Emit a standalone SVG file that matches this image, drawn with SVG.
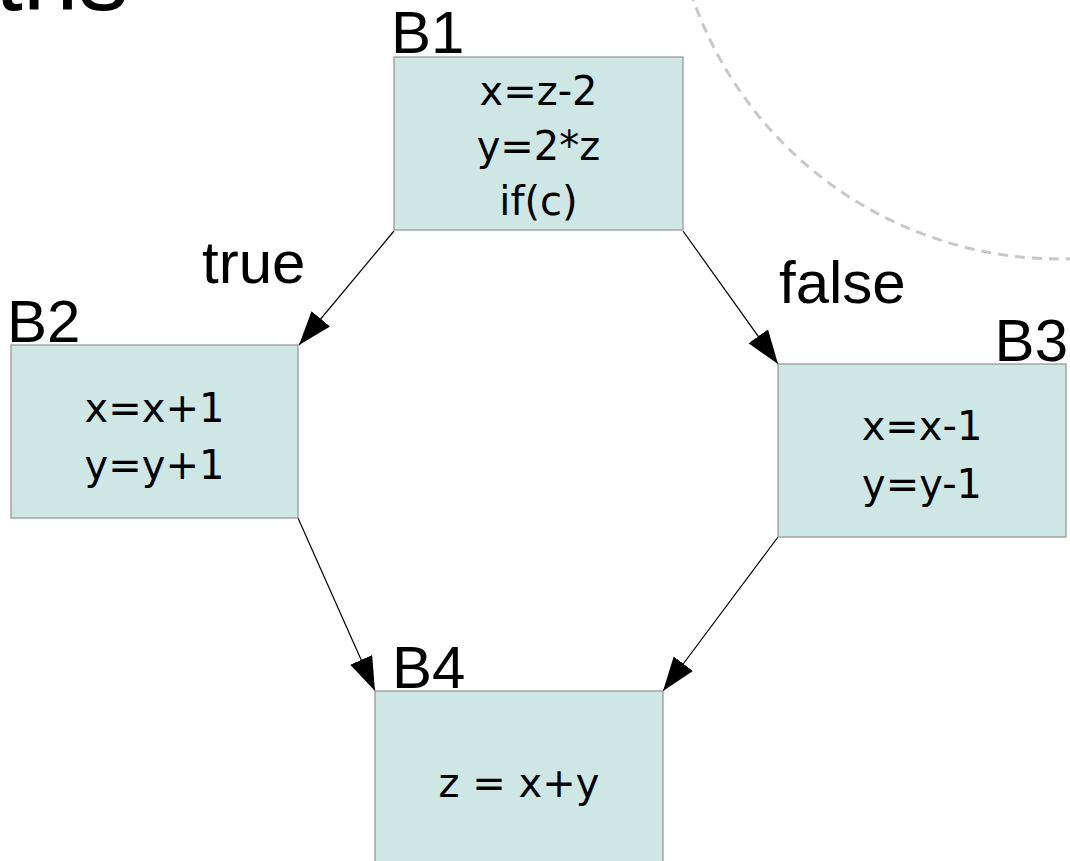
<svg xmlns="http://www.w3.org/2000/svg" width="1070" height="861" viewBox="0 0 1070 861">
<style>
.box{fill:#cfe7e4;stroke:#999999;stroke-width:1.3}
.lbl{font-family:"Liberation Sans",Arial,sans-serif;font-size:60px;fill:#000}
.code{font-family:"DejaVu Sans",sans-serif;font-size:40px;fill:#000;text-anchor:middle}
.edge{stroke:#000;stroke-width:1.2;fill:none;marker-end:url(#arr)}
</style>
<defs>
<marker id="arr" markerUnits="userSpaceOnUse" markerWidth="36" markerHeight="26" refX="34" refY="12" orient="auto" viewBox="0 0 36 26">
<path d="M0,0 L34,12 L0,24 Z" fill="#000"/>
</marker>
</defs>
<rect width="1070" height="861" fill="#fff"/>
<circle cx="1060" cy="-130" r="389" fill="none" stroke="#c8c8c8" stroke-width="3" stroke-dasharray="10,7"/>
<text class="lbl" x="-5" y="10" style="font-size:100px">ths</text>
<g id="connectors">
<line class="edge" x1="394" y1="231" x2="299" y2="345"/>
<line class="edge" x1="683" y1="231" x2="778" y2="364"/>
<line class="edge" x1="298" y1="518" x2="375" y2="691"/>
<line class="edge" x1="778" y1="537" x2="663" y2="691"/>
</g>
<g id="B1">
<rect class="box" x="394" y="57" width="289" height="173"/>
<text class="lbl" x="391" y="53">B1</text>
<text class="code" x="538.5" y="105">x=z-2</text>
<text class="code" x="538.5" y="160">y=2*z</text>
<text class="code" x="538.5" y="215">if(c)</text>
</g>
<g id="B2">
<rect class="box" x="11" y="345" width="287" height="173"/>
<text class="lbl" x="7" y="342">B2</text>
<text class="code" x="154.5" y="422">x=x+1</text>
<text class="code" x="154.5" y="479">y=y+1</text>
</g>
<g id="B3">
<rect class="box" x="778" y="364" width="288" height="173"/>
<text class="lbl" x="1068" y="361" text-anchor="end">B3</text>
<text class="code" x="922" y="440">x=x-1</text>
<text class="code" x="922" y="498">y=y-1</text>
</g>
<g id="B4">
<rect class="box" x="375" y="691" width="288" height="200"/>
<text class="lbl" x="392" y="688">B4</text>
<text class="code" x="519" y="797">z = x+y</text>
</g>
<g id="edge-labels">
<text class="lbl" x="202" y="283">true</text>
<text class="lbl" x="779" y="303">false</text>
</g>
</svg>
